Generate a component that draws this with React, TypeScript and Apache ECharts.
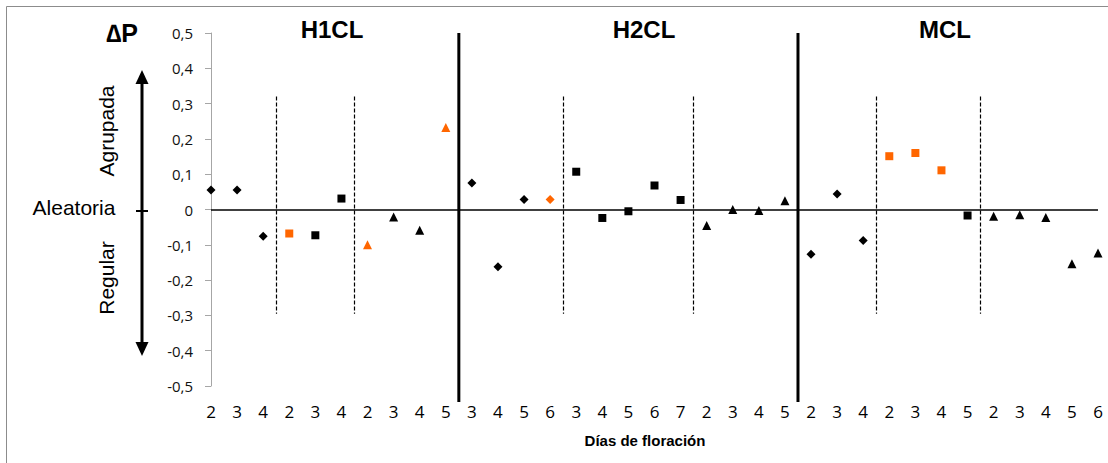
import React, { useEffect, useRef } from "react";
import * as echarts from "echarts";

const dayLabels = ["2","3","4","2","3","4","2","3","4","5","3","4","5","6","3","4","5","6","7","2","3","4","5","2","3","4","2","3","4","5","2","3","4","5","6"];
const deltaP = [0.055, 0.055, -0.076, -0.068, -0.073, 0.031, -0.1, -0.021, -0.059, 0.232,
  0.075, -0.162, 0.028, 0.028, 0.107, -0.024, -0.005, 0.068, 0.027, -0.045, 0.0, -0.003, 0.025,
  -0.127, 0.044, -0.088, 0.151, 0.16, 0.111, -0.017, -0.019, -0.015, -0.023, -0.154, -0.123];
const markerShapes = [
  "diamond","diamond","diamond","rect","rect","rect","triangle","triangle","triangle","triangle",
  "diamond","diamond","diamond","diamond","rect","rect","rect","rect","rect","triangle","triangle","triangle","triangle",
  "diamond","diamond","diamond","rect","rect","rect","rect","triangle","triangle","triangle","triangle","triangle"];
const highlighted = [3, 6, 9, 13, 26, 27, 28];
const groupNames = ["H1CL", "H2CL", "MCL"];
const groupDividers = [9.5, 22.5];
const subDividers = [2.5, 5.5, 13.5, 18.5, 25.5, 29.5];
const yTicksMin = -0.5;
const yTicksMax = 0.5;

const ORANGE = "#FF6600";
const NUM_FONT = "'Open Sans', sans-serif";
const SANS = "'Liberation Sans', Arial, sans-serif";
const sizeOf: Record<string, number> = { diamond: 9, rect: 8, triangle: 9 };

export default function App() {
  const ref = useRef<HTMLDivElement>(null);
  useEffect(() => {
    const chart = echarts.init(ref.current!, null, { renderer: "svg" });
    const data = deltaP.map((v, i) => ({
      value: [i, v],
      symbol: markerShapes[i],
      symbolSize: sizeOf[markerShapes[i]],
      itemStyle: { color: highlighted.includes(i) ? ORANGE : "#000", opacity: 1 },
    }));
    const dashed = subDividers.map((x) => [
      { coord: [x, 0.32], lineStyle: { color: "#000", width: 1.2, type: [4, 2], opacity: 1 } },
      { coord: [x, -0.295] },
    ]);
    chart.setOption({
      animation: false,
      grid: { left: 211, right: 10, top: 33, bottom: 77 },
      xAxis: {
        type: "value", min: 0, max: 34, interval: 1,
        axisLine: { show: false }, axisTick: { show: false }, splitLine: { show: false },
        axisLabel: {
          formatter: (v: number) => dayLabels[Math.round(v)] ?? "",
          margin: 17, fontSize: 17, color: "#000", fontFamily: NUM_FONT,
        },
      },
      yAxis: {
        type: "value", min: yTicksMin, max: yTicksMax, interval: 0.1,
        axisLine: { show: true, lineStyle: { color: "#a6a6a6", width: 1 } },
        axisTick: { show: true, length: 6, lineStyle: { color: "#a6a6a6" } },
        splitLine: { show: false },
        axisLabel: {
          formatter: (v: number) => {
            const r = Math.round(v * 10) / 10;
            return r === 0 ? "0" : r.toFixed(1).replace(".", ",");
          },
          margin: 18, fontSize: 15, color: "#111", fontFamily: NUM_FONT,
        },
      },
      series: [{
        type: "scatter",
        data,
        markLine: {
          silent: true, symbol: ["none", "none"], label: { show: false },
          data: [
            { yAxis: 0, lineStyle: { color: "#000", width: 1.5, type: "solid", opacity: 1 } },
            ...dashed,
          ],
        },
      }],
    });

    const divs = groupDividers.map((x) => {
      const top = chart.convertToPixel({ gridIndex: 0 }, [x, yTicksMax]) as number[];
      const bot = chart.convertToPixel({ gridIndex: 0 }, [x, -0.545]) as number[];
      return {
        type: "line",
        shape: { x1: top[0], y1: top[1], x2: bot[0], y2: bot[1] },
        style: { stroke: "#000", lineWidth: 3 },
      };
    });
    const headerX = [332, 644, 945];
    const headers = groupNames.map((n, i) => ({
      type: "text", x: headerX[i], y: 29,
      style: { text: n, font: `bold 24px ${SANS}`, fill: "#000", align: "center", verticalAlign: "middle" },
    }));
    chart.setOption({
      graphic: [
        { type: "rect", shape: { x: 6.5, y: 6.5, width: 1120, height: 480 }, style: { fill: "none", stroke: "#8c8c8c", lineWidth: 1 } },
        { type: "text", x: 122, y: 33, style: { text: "∆P", font: `bold 25px ${SANS}`, fill: "#000", align: "center", verticalAlign: "middle" } },
        { type: "text", x: 74, y: 207, style: { text: "Aleatoria", font: `21px ${SANS}`, fill: "#000", align: "center", verticalAlign: "middle" } },
        { type: "text", x: 106, y: 131, rotation: Math.PI / 2, style: { text: "Agrupada", font: `21px ${SANS}`, fill: "#000", align: "center", verticalAlign: "middle" } },
        { type: "text", x: 106, y: 278, rotation: Math.PI / 2, style: { text: "Regular", font: `21px ${SANS}`, fill: "#000", align: "center", verticalAlign: "middle" } },
        { type: "line", shape: { x1: 142, y1: 80, x2: 142, y2: 346 }, style: { stroke: "#000", lineWidth: 3 } },
        { type: "polygon", shape: { points: [[142, 70], [135.5, 84], [148.5, 84]] }, style: { fill: "#000" } },
        { type: "polygon", shape: { points: [[142, 356], [135.5, 342], [148.5, 342]] }, style: { fill: "#000" } },
        { type: "line", shape: { x1: 136, y1: 211, x2: 148, y2: 211 }, style: { stroke: "#000", lineWidth: 2 } },
        { type: "text", x: 645, y: 440, style: { text: "Días de floración", font: `bold 15px ${SANS}`, fill: "#000", align: "center", verticalAlign: "middle" } },
        ...headers,
        ...divs,
      ],
    });
    return () => chart.dispose();
  }, []);
  return <div ref={ref} style={{ position: "fixed", left: 0, top: 0, width: 1108, height: 463, background: "#fff" }} />;
}
